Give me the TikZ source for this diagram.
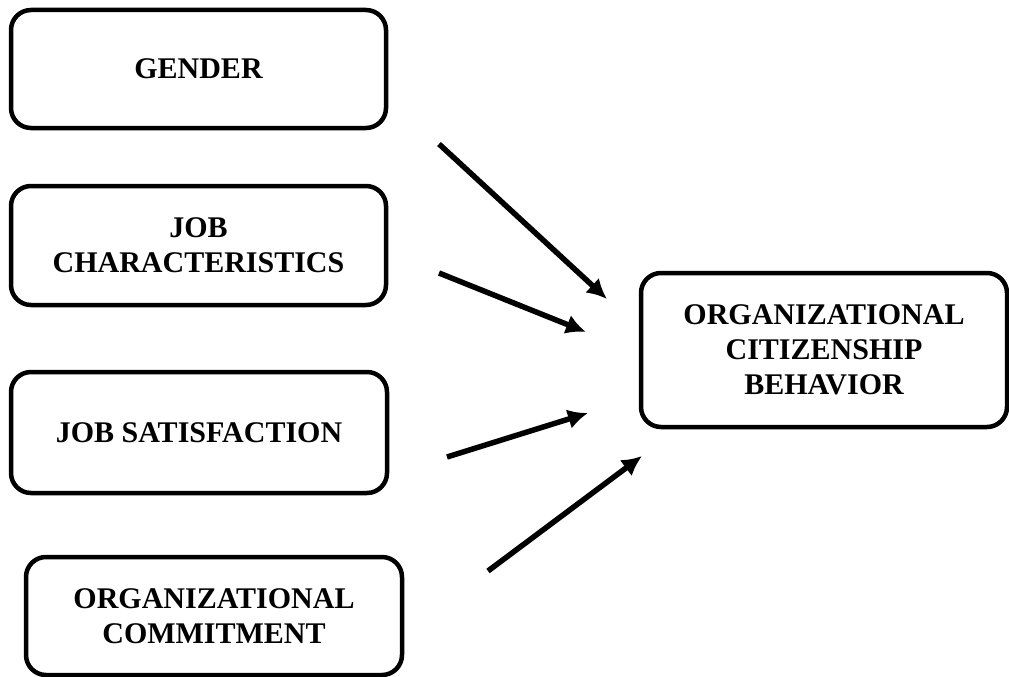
\documentclass[tikz,border=0pt]{standalone}
\usepackage{fontspec}
\setmainfont{Liberation Serif}
\usetikzlibrary{arrows.meta}
\begin{document}
\begin{tikzpicture}[x=1pt,y=-1pt,
  box/.style={draw=black,line width=4.5pt,rounded corners=20pt,fill=white,
    inner sep=0pt,align=center,font=\fontsize{30}{35}\selectfont\bfseries},
  arr/.style={line width=5.5pt,-{Latex[length=20pt,width=20pt]}}]
\useasboundingbox (0,0) rectangle (1009,677);
\node[box,minimum width=375pt,minimum height=118pt] (gender) at (198.5,69) {GENDER};
\node[box,minimum width=375pt,minimum height=119pt] (jobch) at (198.5,245.5) {JOB\\CHARACTERISTICS};
\node[box,minimum width=376pt,minimum height=121pt] (jobsat) at (199,432.5) {JOB SATISFACTION};
\node[box,minimum width=376pt,minimum height=118pt] (orgcom) at (214,616) {ORGANIZATIONAL\\COMMITMENT};
\node[box,minimum width=366pt,minimum height=154pt] (ocb) at (824,350) {ORGANIZATIONAL\\CITIZENSHIP\\BEHAVIOR};
\coordinate (s1) at (439,144); \coordinate (e1) at (607,299);
\coordinate (s2) at (439,273); \coordinate (e2) at (586,332);
\coordinate (s3) at (447,457); \coordinate (e3) at (588,413);
\coordinate (s4) at (488,571); \coordinate (e4) at (642,456);
\draw[arr] (s1) -- (e1);
\draw[arr] (s2) -- (e2);
\draw[arr] (s3) -- (e3);
\draw[arr] (s4) -- (e4);
\end{tikzpicture}
\end{document}
